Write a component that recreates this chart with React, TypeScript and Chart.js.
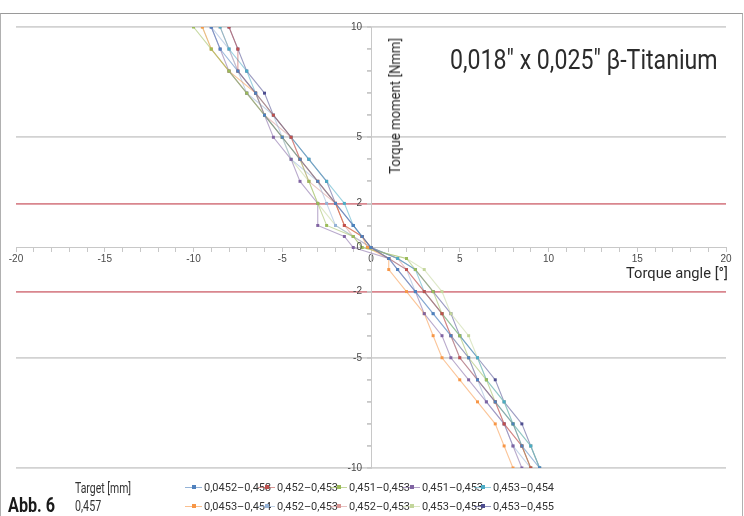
import React, { useEffect, useLayoutEffect, useRef, useState } from "react";
import { Chart, registerables } from "chart.js";
Chart.register(...registerables);

// Torque moment levels (y) shared by every measurement series
const yLevels = [10, 9, 8, 7, 6, 5, 4, 3, 2, 1, 0.5, 0, -0.5, -1, -2, -3, -4, -5, -6, -7, -8, -9, -10];

// Torque angle (x) for each series at the levels above
const s1 = [-9, -8.5, -7.5, -6.5, -6, -5, -4, -3, -2, -1, -0.5, 0, 1, 1.5, 2.5, 3.5, 4.5, 5.5, 6, 7, 8, 8.5, 9.5];
const s2 = [-8, -7.5, -7.5, -6.5, -5.5, -4.5, -4, -3, -2, -1.5, -0.5, 0, 1, 2, 3, 4, 4.5, 5, 6, 7, 7.5, 8.5, 9];
const s3 = [-10, -9, -8, -7, -6, -5, -4, -3.5, -3, -2.5, -1, -0.5, 2, 2.5, 3.5, 4, 5, 5.5, 6.5, 7, 8, 8.5, 9];
const s4 = [-9, -8.5, -8, -7, -6, -5.5, -4.5, -4, -3, -3, -1.5, -1, 1, 1.5, 2.5, 3, 4, 4.5, 5.5, 6.5, 7.5, 8, 8.5];
const s5 = [-8.5, -8, -7, -6.5, -5.5, -4.5, -3.5, -2.5, -1.5, -1, -0.5, 0, 1.5, 2.5, 3, 4, 5, 6, 6.5, 7.5, 8, 9, 9.5];
const s6 = [-9.5, -9, -8, -6.5, -6, -5, -4, -3, -2, -1.5, -0.5, -0.2, 1, 1, 2, 3, 3.5, 4, 5, 6, 7, 7.5, 8];
const s7 = [-9, -8, -7.5, -7, -5.5, -5, -4.5, -3, -2.5, -2, -1, 0, 1, 2, 2.5, 3.5, 4.5, 5, 6, 6.5, 7.5, 8, 9];
const s8 = [-8.5, -8, -7.5, -6.5, -6, -4.5, -4, -3.5, -2, -1.5, -1, 0, 1.5, 2, 3, 4, 4.5, 5.5, 6, 7, 7.5, 8.5, 9];
const s9 = [-9.5, -9, -8, -7, -6, -5, -4.5, -3.5, -3, -2, -1, -0.5, 2, 3, 4, 4.5, 5.5, 6, 6.5, 7.5, 8, 9, 9.5];
const s10 = [-8, -7.5, -7, -6, -5.5, -4.5, -3.5, -2.5, -2, -1, -0.5, 0, 1.5, 2.5, 3.5, 4.5, 5, 6, 7, 7.5, 8.5, 9, 9.5];

const seriesValues = [s1, s2, s3, s4, s5, s6, s7, s8, s9, s10];
const seriesLabels = [
  "0,0452–0,453", "0,452–0,453", "0,451–0,453", "0,451–0,453", "0,453–0,454",
  "0,0453–0,454", "0,452–0,453", "0,452–0,453", "0,453–0,455", "0,453–0,455",
];
const seriesColors = [
  "#4F81BD", "#C0504D", "#9BBB59", "#8064A2", "#4BACC6",
  "#F79646", "#95B3D7", "#D99694", "#C3D69B", "#4D4D8F",
];

const xTickLabels = [-20, -15, -10, -5, 0, 5, 10, 15, 20];
const yTickLabels = [10, 5, 2, 0, -2, -5, -10];
const redGridValues = [2, -2];
const grayGridValues = [10, 5, -5, -10];

const titleText = "0,018″ x 0,025″ β-Titanium";
const yTitle = "Torque moment [Nmm]";
const xTitle = "Torque angle [°]";
const targetLabel = "Target [mm]";
const targetValue = "0,457";
const figLabel = "Abb. 6";

const family = "Roboto, 'Liberation Sans', Arial, sans-serif";
const tickFont = "10px 'Liberation Sans', Arial, sans-serif";

function hexA(hex: string, a: number) {
  const n = parseInt(hex.slice(1), 16);
  return `rgba(${(n >> 16) & 255},${(n >> 8) & 255},${n & 255},${a})`;
}

const intRange = (a: number, b: number) => {
  const r: number[] = [];
  for (let i = a; i <= b; i++) r.push(i);
  return r;
};

// draws the y tick labels to the left of the centred y axis, using the chart's scales
const yLabelPlugin = {
  id: "yLabels",
  afterDraw(chart: any) {
    const { ctx, scales } = chart;
    const x0 = scales.x.getPixelForValue(0);
    ctx.save();
    ctx.font = tickFont;
    ctx.fillStyle = "#4a4a4a";
    ctx.textAlign = "right";
    ctx.textBaseline = "middle";
    yTickLabels.forEach((v) => {
      ctx.fillText(String(v), x0 - 9, scales.y.getPixelForValue(v));
    });
    ctx.restore();
  },
};

function FitText(props: {
  text: string; left: number; top: number; width: number; size: number;
  weight?: string; color?: string; rotate?: boolean;
}) {
  const { text, left, top, width, size, weight, color, rotate } = props;
  const r = useRef<HTMLSpanElement>(null);
  const [sx, setSx] = useState(1);
  useLayoutEffect(() => {
    const w = r.current ? r.current.offsetWidth : 0;
    if (w > 0) setSx(width / w);
  }, [text, width, size]);
  const inner = (
    <span
      ref={r}
      style={{
        display: "inline-block",
        fontFamily: family,
        fontSize: size,
        lineHeight: 1,
        fontWeight: weight || "normal",
        color: color || "#333",
        whiteSpace: "nowrap",
        transform: `scaleX(${sx})`,
        transformOrigin: rotate ? "center center" : "left top",
      }}
    >
      {text}
    </span>
  );
  if (rotate) {
    return (
      <div style={{ position: "absolute", left, top, transform: "translate(-50%, -50%) rotate(-90deg)", lineHeight: 1 }}>
        {inner}
      </div>
    );
  }
  return <div style={{ position: "absolute", left, top, lineHeight: 1 }}>{inner}</div>;
}

export default function App() {
  const ref = useRef<HTMLCanvasElement>(null);
  useEffect(() => {
    document.body.style.margin = "0";
    const ctx = ref.current!;
    const chart = new Chart(ctx, {
      type: "scatter",
      data: {
        datasets: seriesValues.map((vals, i) => ({
          label: seriesLabels[i],
          data: vals.map((x, k) => ({ x, y: yLevels[k] })),
          showLine: true,
          borderColor: hexA(seriesColors[i], 0.55),
          backgroundColor: seriesColors[i],
          pointBackgroundColor: seriesColors[i],
          pointBorderColor: seriesColors[i],
          borderWidth: 1.1,
          pointRadius: 2.1,
          pointStyle: "rect",
          pointBorderWidth: 0,
        })),
      },
      options: {
        animation: false,
        responsive: false,
        maintainAspectRatio: false,
        layout: { padding: { left: 16, top: 27, right: 18, bottom: 48 } },
        plugins: { legend: { display: false }, tooltip: { enabled: false } },
        scales: {
          x: {
            type: "linear",
            min: -20,
            max: 20,
            position: { y: 0 } as any,
            afterBuildTicks: (s: any) => {
              s.ticks = intRange(-20, 20).map((v) => ({ value: v }));
            },
            ticks: {
              autoSkip: false,
              maxRotation: 0,
              padding: 2,
              color: "#4a4a4a",
              font: { family: "'Liberation Sans', Arial, sans-serif", size: 10 },
              callback: (v: any) => (xTickLabels.includes(Number(v)) ? String(v) : ""),
            },
            grid: { drawOnChartArea: false, color: "#c8c8c8", tickLength: 4 },
            border: { color: "#c8c8c8", width: 1 },
          },
          y: {
            type: "linear",
            min: -10,
            max: 10,
            position: { x: 0 } as any,
            afterBuildTicks: (s: any) => {
              s.ticks = intRange(-10, 10).map((v) => ({ value: v }));
            },
            ticks: {
              autoSkip: false,
              callback: () => "",
            },
            grid: {
              color: (c: any) => {
                const v = c.tick && c.tick.value;
                if (redGridValues.includes(v)) return "#d9868e";
                if (grayGridValues.includes(v)) return "#d2d2d2";
                return "rgba(0,0,0,0)";
              },
              lineWidth: 1.8,
              tickColor: "#c8c8c8",
              tickLength: 4,
            },
            border: { color: "#c8c8c8", width: 1 },
          },
        },
      },
      plugins: [yLabelPlugin],
    });
    return () => chart.destroy();
  }, []);

  const legendPos = [185, 258, 330, 403, 474];

  return (
    <div style={{ position: "absolute", left: 0, top: 0, width: 744, height: 516, background: "#fff", overflow: "hidden" }}>
      <div style={{ position: "absolute", left: 0, top: 13, width: 741, height: 503, borderTop: "1px solid #9a9a9a", borderLeft: "1px solid #b0b0b0", borderRight: "1px solid #b0b0b0" }} />
      <canvas ref={ref} width={744} height={516} style={{ position: "absolute", left: 0, top: 0, width: 744, height: 516 }} />
      <FitText text={titleText} left={450} top={47} width={268} size={27} color="#2b2b2b" />
      <FitText text={yTitle} left={395} top={106} width={136} size={15} rotate color="#2b2b2b" />
      <FitText text={xTitle} left={626} top={265} width={102} size={15} color="#2b2b2b" />
      <FitText text={targetLabel} left={75} top={480} width={56} size={14} />
      <FitText text={targetValue} left={75} top={498} width={26} size={14} />
      <FitText text={figLabel} left={8} top={495} width={47} size={20} weight="bold" color="#1a1a1a" />
      {seriesLabels.map((lab, i) => {
        const row = Math.floor(i / 5);
        const col = i % 5;
        return (
          <div key={i} style={{ position: "absolute", left: legendPos[col], top: 480 + row * 19, height: 14, display: "flex", alignItems: "center", fontFamily: family, fontSize: 11, color: "#333", whiteSpace: "nowrap" }}>
            <span style={{ position: "relative", display: "inline-block", width: 17, height: 1, background: hexA(seriesColors[i], 0.6), marginRight: 2 }}>
              <span style={{ position: "absolute", left: 7, top: -1.5, width: 4, height: 4, background: seriesColors[i] }} />
            </span>
            {lab}
          </div>
        );
      })}
    </div>
  );
}
